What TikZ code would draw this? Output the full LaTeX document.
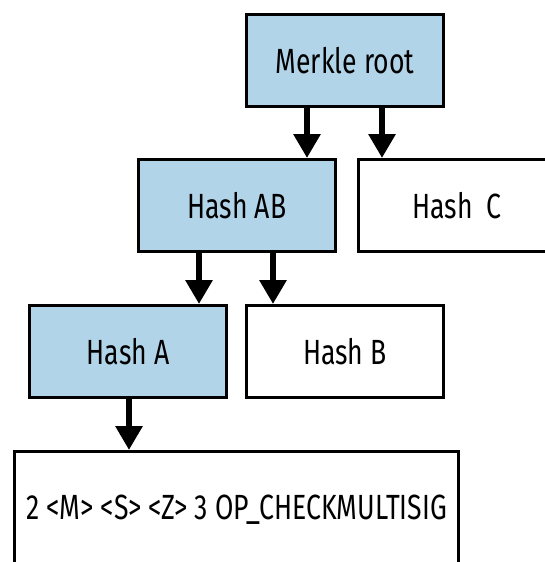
\documentclass[tikz,border=0pt]{standalone}
\usepackage{fontspec}
\setmainfont{Fira Sans}[FakeStretch=0.76]
\usetikzlibrary{arrows.meta}
\definecolor{hashblue}{RGB}{178,212,233}
\newcommand{\hashnode}[4] {\node at (#1) (#2) [hashbox, #3] {#4};}
\newcommand{\hasharrow}[3] {\draw [hasharrowline] ([xshift=#3]#1.south) -- ([xshift=#3]#1.south |- #2.north);}
\tikzset{
  hashbox/.style={rectangle, draw, line width=3pt, minimum width=197pt, minimum height=92pt,
    font=\fontsize{35}{38}\selectfont},
  onpath/.style={fill=hashblue},
  hasharrowline/.style={line width=6pt, -{Triangle[width=26pt, length=24pt]}}
}

\begin{document}
\begin{tikzpicture}[x=1pt, y=1pt]
\useasboundingbox (0,0) rectangle (545,-562);
\clip (0,0) rectangle (545,-562);

\hashnode {345,-60.5}{mr}{onpath}{Merkle root};
\hashnode {237,-205.5}{ab}{onpath}{Hash AB};
\hashnode {457,-205.5}{hc}{}{Hash\ \ C};
\hashnode {128,-351.5}{ha}{onpath}{Hash A};
\hashnode {345,-351.5}{hb}{}{Hash B};
\hashnode {236.5,-510}{script}{minimum width=444pt, minimum height=117pt}{2 <M> <S> <Z> 3 OP\_CHECKMULTISIG};

\hasharrow{mr}{ab}{-38pt};
\hasharrow{mr}{hc}{37pt};
\hasharrow{ab}{ha}{-38pt};
\hasharrow{ab}{hb}{36pt};
\hasharrow{ha}{script}{1pt};

\end{tikzpicture}
\end{document}
